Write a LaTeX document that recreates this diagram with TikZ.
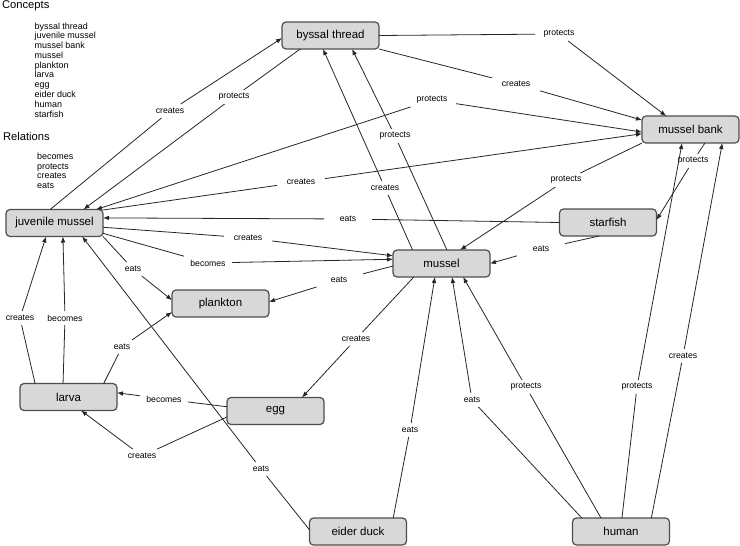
\documentclass[tikz,border=0pt]{standalone}
\usepackage{fontspec}
\setmainfont{Liberation Sans}
\usetikzlibrary{arrows.meta}
\definecolor{boxfill}{RGB}{216,216,216}
\definecolor{boxline}{RGB}{78,78,78}
\tikzset{
  concept/.style={rectangle,draw=boxline,fill=boxfill,rounded corners=3pt,line width=0.9pt,
    minimum width=72.75pt,minimum height=20.25pt,inner sep=0pt,outer sep=0pt,
    font=\fontsize{8.6}{10}\selectfont},
  phrase/.style={rectangle,minimum width=36pt,minimum height=10.5pt,inner sep=0pt,outer sep=0pt,
    font=\fontsize{6.5}{7}\selectfont},
  heading/.style={anchor=west,inner sep=0pt,text height=7pt,text depth=2pt,font=\fontsize{8.4}{10}\selectfont},
  legend/.style={anchor=west,inner sep=0pt,text height=5pt,text depth=1.5pt,font=\fontsize{6.7}{7}\selectfont},
  line/.style={-{Latex[length=4.5pt,width=3.5pt]}}
}

\begin{document}
\begin{tikzpicture}[x=0.75pt,y=-0.75pt,line width=0.6pt,draw=black!85]
\useasboundingbox (0,0) rectangle (740,546);

% legend
\node[heading] (concepts) at (1.7,5.4) {Concepts};
\foreach \txt [count=\i from 0] in {byssal thread,juvenile mussel,mussel bank,mussel,plankton,larva,egg,eider duck,human,starfish}
  \node[legend] (concept\i) at (34.3,{26.7+9.78*\i}) {\txt};
\node[heading] (relations) at (2.7,136.7) {Relations};
\foreach \txt [count=\i from 0] in {becomes,protects,creates,eats}
  \node[legend] (relation\i) at (36.7,{157+9.8*\i}) {\txt};

% concepts
\node[concept] (bt)  at (330.5,35.5)  {byssal thread};
\node[concept] (mb)  at (690.5,129.5) {mussel bank};
\node[concept] (jm)  at (54.5,223)    {juvenile mussel};
\node[concept] (sf)  at (608,222.5)   {starfish};
\node[concept] (mu)  at (441.5,263.5) {mussel};
\node[concept] (pl)  at (220.5,303.5) {plankton};
\node[concept] (la)  at (68.5,397)    {larva};
\node[concept] (egg) at (275.5,411)   {egg};
\node[concept] (ed)  at (358,531.5)   {eider duck};
\node[concept] (hu)  at (621,531.5)   {human};

% linking phrases
\node[phrase] (p1)  at (170,111) {creates};
\node[phrase] (p2)  at (234,97)  {protects};
\node[phrase] (p3)  at (559,34)  {protects};
\node[phrase] (p4)  at (516,84)  {creates};
\node[phrase] (p5)  at (432,100) {protects};
\node[phrase] (p6)  at (301,182) {creates};
\node[phrase] (p7)  at (348,219) {eats};
\node[phrase] (p8)  at (248,238) {creates};
\node[phrase] (p9)  at (208,263) {becomes};
\node[phrase] (p10) at (133,269) {eats};
\node[phrase] (p11) at (122,347) {eats};
\node[phrase] (p12) at (339,280) {eats};
\node[phrase] (p13) at (20,318)  {creates};
\node[phrase] (p14) at (65,318)  {becomes};
\node[phrase] (p15) at (261,469) {eats};
\node[phrase] (p16) at (164,399) {becomes};
\node[phrase] (p17) at (142,456) {creates};
\node[phrase] (p18) at (356,339) {creates};
\node[phrase] (p19) at (410,430) {eats};
\node[phrase] (p20) at (472,400) {eats};
\node[phrase] (p21) at (526,387) {protects};
\node[phrase] (p22) at (637,387) {protects};
\node[phrase] (p23) at (683,356) {creates};
\node[phrase] (p24) at (693,161) {protects};
\node[phrase] (p25) at (566,180) {protects};
\node[phrase] (p26) at (541,249) {eats};
\node[phrase] (p27) at (385,188) {creates};
\node[phrase] (p28) at (395,136) {protects};

% links
\draw (jm.108) -- (p1);          \draw[line] (p1) -- (bt.183);
\draw (bt.204) -- (p2);          \draw[line] (p2) -- (jm.25);
\draw (bt.east) -- (p3);         \draw[line] (p3) -- (mb.151);
\draw (bt.south east) -- (p4);   \draw[line] (p4) -- (mb.169);
\draw[line] (p5) -- (mb.183);    \draw[line] (p5) -- (jm.18);
\draw (jm.15) -- (p6);           \draw[line] (p6) -- (mb.185);
\draw (sf.west) -- (p7);         \draw[line] (p7) -- (jm.6);
\draw (jm.355) -- (p8);          \draw[line] (p8) -- (mu.171);
\draw (jm.348) -- (p9);          \draw[line] (p9) -- (mu.175);
\draw (jm.south east) -- (p10);  \draw[line] (p10) -- (pl.176);
\draw (la.21) -- (p11);          \draw[line] (p11) -- (pl.190);
\draw (mu.183) -- (p12);         \draw[line] (p12) -- (pl.2);
\draw (la.158) -- (p13);         \draw[line] (p13) -- (jm.238);
\draw (la.112) -- (p14);         \draw[line] (p14) -- (jm.302);
\draw (ed.178) -- (p15);         \draw[line] (p15) -- (jm.334);
\draw (egg.175) -- (p16);        \draw[line] (p16) -- (la.5);
\draw (egg.187) -- (p17);        \draw[line] (p17) -- (la.313);
\draw (mu.206) -- (p18);         \draw[line] (p18) -- (egg.27);
\draw (ed.21) -- (p19);          \draw[line] (p19) -- (mu.244);
\draw (hu.161) -- (p20);         \draw[line] (p20) -- (mu.308);
\draw (hu.146) -- (p21);         \draw[line] (p21) -- (mu.328);
\draw (hu.86) -- (p22);          \draw[line] (p22) -- (mb.238);
\draw (hu.24) -- (p23);          \draw[line] (p23) -- (mb.337);
\draw (mb.317) -- (p24);         \draw[line] (p24) -- (sf.3);
\draw (mb.south west) -- (p25);  \draw[line] (p25) -- (mu.36);
\draw (sf.237) -- (p26);         \draw[line] (p26) -- (mu.east);
\draw (mu.155) -- (p27);         \draw[line] (p27) -- (bt.241);
\draw (mu.68) -- (p28);          \draw[line] (p28) -- (bt.328);
\end{tikzpicture}
\end{document}
